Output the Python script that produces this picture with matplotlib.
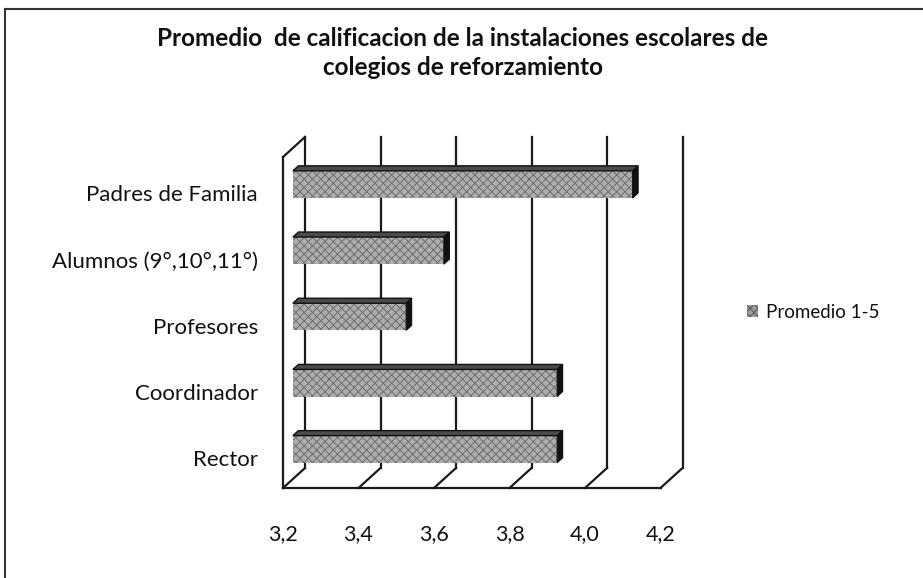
import numpy as np
import matplotlib
matplotlib.use("Agg")
import matplotlib.pyplot as plt
from matplotlib.patches import Polygon, Patch
from matplotlib.lines import Line2D

# ---- data ----
categories = ["Rector", "Coordinador", "Profesores", "Alumnos (9°,10°,11°)", "Padres de Familia"]
values = [3.9, 3.9, 3.5, 3.6, 4.1]
series_name = "Promedio 1-5"
xticks = [3.2, 3.4, 3.6, 3.8, 4.0, 4.2]
xtick_labels = ["3,2", "3,4", "3,6", "3,8", "4,0", "4,2"]
title = "Promedio  de calificacion de la instalaciones escolares de\ncolegios de reforzamiento"

plt.rcParams['font.family'] = ['Lato', 'DejaVu Sans']
W, H = 923, 578
fig = plt.figure(figsize=(W / 100, H / 100), dpi=100)
ax = fig.add_axes([283 / W, (H - 488) / H, 377.5 / W, (488 - 157) / H])
x0, x1 = xticks[0], xticks[-1]
ymin, ymax = -0.45, 4.55
ax.set_xlim(x0, x1)
ax.set_ylim(ymin, ymax)
for s in ax.spines.values():
    s.set_visible(False)

# depth offset (pixels) converted to data units
DX, DY = 22, 20
p0 = ax.transData.transform((x0, 0))
p1 = ax.transData.transform((x1, 1))
ddx = DX / (p1[0] - p0[0]) * (x1 - x0)
ddy = DY / (p1[1] - p0[1])

lc = '#1a1a1a'
lw = 1.6
# back wall gridlines + floor diagonals
for t in xticks:
    ax.add_line(Line2D([t + ddx, t + ddx], [ymin + ddy, ymax + ddy], color=lc, lw=lw,
                       clip_on=False, zorder=1))
    ax.add_line(Line2D([t, t + ddx], [ymin, ymin + ddy], color=lc, lw=lw,
                       clip_on=False, zorder=1))
# floor front edge
ax.add_line(Line2D([x0, x1], [ymin, ymin], color=lc, lw=lw, clip_on=False, zorder=1))
# left wall front edge and top
ax.add_line(Line2D([x0, x0], [ymin, ymax], color=lc, lw=lw, clip_on=False, zorder=1))
ax.add_line(Line2D([x0, x0 + ddx], [ymax, ymax + ddy], color=lc, lw=lw, clip_on=False, zorder=1))

# bars
pos = np.arange(len(categories))
vals = np.array(values)
bh = 0.41
f0, f1 = 0.45, 0.70
plt.rcParams['hatch.linewidth'] = 0.7
bars = ax.barh(pos + f0 * ddy, vals - x0, left=x0 + f0 * ddx, height=bh,
               color='#adadad', edgecolor='#6f6f6f', hatch='xxxx', linewidth=0,
               zorder=3, clip_on=False, label=series_name)
for p, v in zip(pos, vals):
    yt = p + bh / 2
    yb = p - bh / 2
    top = [(x0 + f0 * ddx, yt + f0 * ddy), (v + f0 * ddx, yt + f0 * ddy),
           (v + f1 * ddx, yt + f1 * ddy), (x0 + f1 * ddx, yt + f1 * ddy)]
    side = [(v + f0 * ddx, yb + f0 * ddy), (v + f0 * ddx, yt + f0 * ddy),
            (v + f1 * ddx, yt + f1 * ddy), (v + f1 * ddx, yb + f1 * ddy)]
    ax.add_patch(Polygon(top, closed=True, facecolor='#4a4a4a', edgecolor='#111111',
                         lw=1.0, zorder=4, clip_on=False))
    ax.add_patch(Polygon(side, closed=True, facecolor='#111111', edgecolor='#111111',
                         lw=0.8, zorder=4, clip_on=False))

# ticks
ax.set_yticks(pos, categories)
ax.set_xticks(xticks, xtick_labels)
ax.tick_params(axis='y', length=0, pad=18, labelsize=16, labelcolor='#111111')
ax.tick_params(axis='x', length=0, pad=26, labelsize=15.5, labelcolor='#111111')

# legend
h = Patch(facecolor='#9a9a9a', edgecolor='#555555', hatch='xxxx', lw=0)
fig.legend(handles=[h], labels=[series_name], loc='center left',
           bbox_to_anchor=(730 / W, 1 - 312 / H), frameon=False, fontsize=13.5,
           handlelength=0.6, handleheight=0.6, handletextpad=0.4, labelcolor='#111111')

# title
fig.text(463 / W, 1 - 53 / H, title, ha='center', va='center', fontsize=17.5,
         fontweight='bold', linespacing=1.3, color='#111111')

# chart border (top & left)
fig.add_artist(Line2D([5 / W, 1.0], [1 - 9 / H, 1 - 9 / H], transform=fig.transFigure,
                      color='#333333', lw=1.5))
fig.add_artist(Line2D([5 / W, 5 / W], [0, 1 - 9 / H], transform=fig.transFigure,
                      color='#333333', lw=1.5))

fig.savefig('out.png', dpi=100)
